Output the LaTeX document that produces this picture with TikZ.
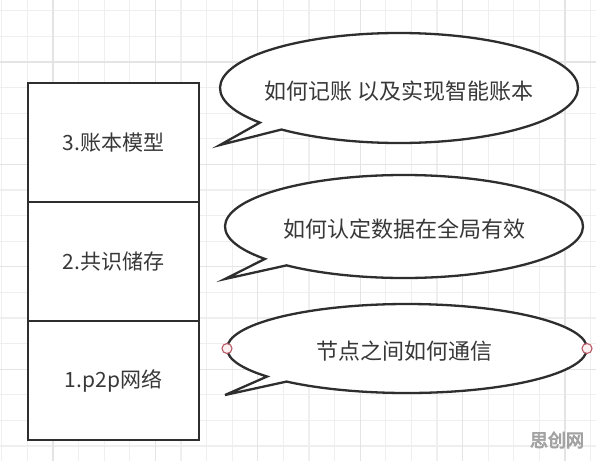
\documentclass[tikz,border=0pt]{standalone}
\usepackage{fontspec}
\usepackage{xcolor}
\usepackage{tikz}
\usetikzlibrary{calc,positioning}
\newfontfamily\cjk{Noto Sans CJK SC}
\newfontfamily\cjkheavy[FakeBold=4]{Noto Sans CJK SC}
\definecolor{ink}{HTML}{2E2E2E}
\definecolor{txt}{HTML}{383838}
\definecolor{gridminor}{HTML}{EFEFEF}
\definecolor{gridmajor}{HTML}{E4E4E4}
\definecolor{pin}{HTML}{B85A66}
\definecolor{pinfill}{HTML}{FDF1F2}
\definecolor{wmark}{HTML}{A2A2A2}
\tikzset{
  layer/.style={draw=ink, line width=2.6pt, fill=white, minimum width=171pt, minimum height=119pt,
    outer sep=0pt, inner sep=0pt, text=txt, font=\cjk\fontsize{21}{24}\selectfont},
  bubble/.style={draw=ink, line width=2.3pt, fill=white},
  say/.style={text=txt, font=\cjk\fontsize{22}{26}\selectfont},
  pinpt/.style={circle, draw=pin, fill=pinfill, line width=1.1pt, minimum size=10pt, inner sep=0pt},
  minor/.style={draw=gridminor, line width=1.1pt},
  major/.style={draw=gridmajor, line width=1.3pt},
}
\begin{document}
\begin{tikzpicture}[x=1pt,y=-1pt]
  \useasboundingbox (0,0) rectangle (596,461);
  \fill[white] (0,0) rectangle (596,461);

  % background grid
  \foreach \i in {0,...,23} \draw[minor] ({1.8+25.6*\i},0) -- ({1.8+25.6*\i},461);
  \foreach \j in {0,...,17} \draw[minor] (0,{10.8+25.6*\j}) -- (596,{10.8+25.6*\j});
  \foreach \i in {0,...,5} \draw[major] ({53+102.4*\i},0) -- ({53+102.4*\i},461);
  \foreach \j in {0,...,3} \draw[major] (0,{62+102.4*\j}) -- (596,{62+102.4*\j});

  % layers
  \node[layer] (ledger) at (113.5,142.5) {3.账本模型};
  \node[layer, below=0pt of ledger] (consensus) {2.共识储存};
  \node[layer, below=0pt of consensus] (network) {1.p2p网络};

  % speech bubbles
  \coordinate (c3) at (399,88);
  \coordinate (t3) at (220,145);
  \coordinate (c2) at (404,226.5);
  \coordinate (t2) at (225,279);
  \coordinate (c1) at (407,348.5);
  \coordinate (t1) at (225,395);
  \draw[bubble] ($(c3)+(141:179 and 55)$) arc[start angle=141, end angle=491, x radius=179, y radius=55] -- (t3) -- cycle;
  \draw[bubble] ($(c2)+(141:179 and 51.5)$) arc[start angle=141, end angle=491, x radius=179, y radius=51.5] -- (t2) -- cycle;
  \draw[bubble] ($(c1)+(141:180 and 44.5)$) arc[start angle=141, end angle=492, x radius=180, y radius=44.5] -- (t1) -- cycle;
  \node[say] (q3) at ($(c3)+(0,3)$) {如何记账 以及实现智能账本};
  \node[say] (q2) at ($(c2)+(0,3)$) {如何认定数据在全局有效};
  \node[say] (q1) at ($(c1)+(-3,3)$) {节点之间如何通信};
  \node[pinpt] (pinl) at ($(c1)+(180:180 and 44.5)$) {};
  \node[pinpt] (pinr) at ($(c1)+(0:180 and 44.5)$) {};

  \node[text=wmark, font=\cjkheavy\fontsize{18}{19}\selectfont] (wm) at (557,440) {思创网};
\end{tikzpicture}
\end{document}
